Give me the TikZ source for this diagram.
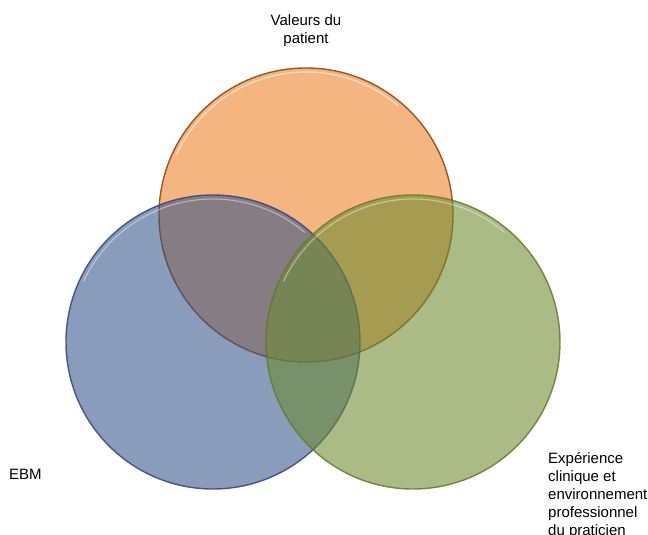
\documentclass[tikz,border=0pt]{standalone}
\usepackage{fontspec}
\setmainfont{Liberation Sans}
\definecolor{orangefill}{RGB}{245,181,129}
\definecolor{orangeedge}{RGB}{156,86,30}
\definecolor{bluefill}{RGB}{46,80,135}
\definecolor{blueedge}{RGB}{50,68,120}
\definecolor{greenfill}{RGB}{110,138,48}
\definecolor{greenedge}{RGB}{100,120,40}
\begin{document}
\begin{tikzpicture}[x=1pt,y=1pt,
    lbl/.style={inner sep=0pt,font=\fontsize{15}{18}\selectfont},
    gloss/.style={white,opacity=.4,line width=1.2pt}]
                \useasboundingbox[fill=white] (0,0) rectangle (648,-535);
                % the three circles
                \draw[fill=orangefill,draw=orangeedge,line width=1.4pt] (306,-215) circle (147);
                \draw[gloss,opacity=.6] (306,-215) ++(50:143) arc (50:155:143);
                \draw[fill=bluefill,fill opacity=.56,draw=blueedge,draw opacity=.85,line width=1.4pt] (213,-342) circle (147);
                \draw[gloss] (213,-342) ++(50:143) arc (50:155:143);
                \draw[fill=greenfill,fill opacity=.58,draw=greenedge,draw opacity=.85,line width=1.4pt] (413,-342) circle (147);
                \draw[gloss] (413,-342) ++(50:143) arc (50:155:143);
                % labels
                \node[lbl,align=center,anchor=north] (valeurs) at (306,-14) {Valeurs du\\patient};
                \node[lbl,anchor=base west] (ebm) at (9,-479) {EBM};
                \node[lbl,align=left,anchor=north west] (experience) at (548,-452) {Expérience\\clinique et\\environnement\\professionnel\\du praticien};
\end{tikzpicture}
\end{document}
